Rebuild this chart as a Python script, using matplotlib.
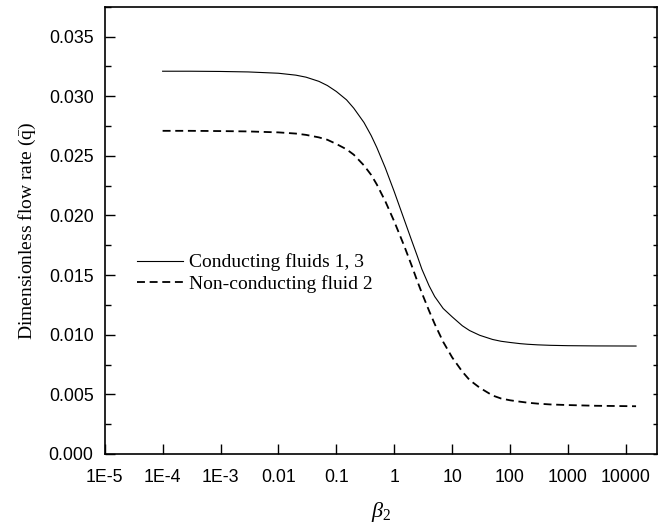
'''
Dimensionless flow rate versus beta_2
'''
import numpy as np
import matplotlib
matplotlib.use('Agg')
import matplotlib.pyplot as plt
from matplotlib.ticker import FixedLocator, FixedFormatter, LogLocator, MultipleLocator, NullFormatter

plt.rcParams['mathtext.fontset'] = 'custom'
plt.rcParams['mathtext.rm'] = 'Liberation Serif'
plt.rcParams['mathtext.it'] = 'Liberation Serif:italic'

# values
beta2 = [1e-4, 3e-4, 1e-3, 3e-3, 0.01, 0.02, 0.03, 0.05, 0.07, 0.1, 0.15, 0.2,
         0.3, 0.4, 0.5, 0.7, 1, 1.5, 2, 2.5, 3, 4, 5, 7, 10, 15, 20, 30, 50,
         70, 100, 150, 200, 300, 500, 1000, 3000, 15000]
q_conducting = [0.0321, 0.0321, 0.03208, 0.03204, 0.03193, 0.03177, 0.0316,
                0.03125, 0.0309, 0.0304, 0.0297, 0.0290, 0.0278, 0.0267, 0.0257,
                0.0240, 0.0220, 0.0196, 0.0179, 0.0166, 0.0155, 0.0141, 0.0132,
                0.0122, 0.0115, 0.01075, 0.01035, 0.00995, 0.0096, 0.00945,
                0.00935, 0.00925, 0.0092, 0.00915, 0.00911, 0.00908, 0.00906,
                0.00905]
q_nonconducting = [0.0271, 0.0271, 0.02708, 0.02705, 0.02697, 0.02687, 0.02676,
                   0.02655, 0.02635, 0.0260, 0.02555, 0.0251, 0.0242, 0.0234,
                   0.0226, 0.0212, 0.0195, 0.0174, 0.0158, 0.0145, 0.0135, 0.0120,
                   0.0109, 0.0094, 0.0081, 0.0069, 0.0062, 0.00555, 0.0049,
                   0.00465, 0.0045, 0.00438, 0.0043, 0.00422, 0.00415, 0.0041,
                   0.00404, 0.0040]
labels = ['Conducting fluids 1, 3', 'Non-conducting fluid 2']
xticks = [1e-5, 1e-4, 1e-3, 0.01, 0.1, 1, 10, 100, 1000, 10000]
xticklabels = ['1E-5', '1E-4', '1E-3', '0.01', '0.1', '1', '10', '100', '1000', '10000']

fig = plt.figure(figsize=(6.67, 5.26), dpi=100)
ax = fig.add_axes([0.157, 0.137, 0.828, 0.850])

ax.plot(beta2, q_conducting, color='black', lw=0.8, label=labels[0])
ax.plot(beta2, q_nonconducting, color='black', lw=1.3, dashes=(4.4, 2.6),
        label=labels[1])

ax.set_xscale('log')
ax.set_xlim(1e-5, 3.45e4)
ax.set_ylim(0, 0.0375)

ax.xaxis.set_major_locator(FixedLocator(xticks))
ax.xaxis.set_major_formatter(FixedFormatter(xticklabels))
ax.xaxis.set_minor_locator(LogLocator(base=10, subs=np.arange(2, 10)))
ax.xaxis.set_minor_formatter(NullFormatter())
ax.yaxis.set_major_locator(MultipleLocator(0.005))
ax.yaxis.set_minor_locator(MultipleLocator(0.0025))
ax.yaxis.set_major_formatter(plt.FuncFormatter(lambda v, p: '%.3f' % v))

ax.tick_params(which='both', direction='in', top=False, right=True,
               labelsize=12.8, width=1.0)
ax.tick_params(which='major', length=7)
ax.tick_params(axis='x', which='major', pad=11)
ax.tick_params(axis='y', which='major', pad=8)
ax.tick_params(which='minor', length=4)
# short ticks on the right spine
for t in ax.yaxis.get_major_ticks() + ax.yaxis.get_minor_ticks():
    t.tick2line.set_markersize(3)
for lab in ax.get_xticklabels() + ax.get_yticklabels():
    lab.set_family('Liberation Sans')
for s in ax.spines.values():
    s.set_linewidth(1.2)

ax.set_xlabel(r'$\beta_{2}$', fontsize=16, labelpad=10)
ax.set_ylabel(r'Dimensionless flow rate $(\bar{\mathrm{q}})$', fontsize=14,
              family='Liberation Serif', labelpad=8)

ax.legend(loc='upper left', bbox_to_anchor=(0.04, 0.47), frameon=False,
          prop={'family': 'Liberation Serif', 'size': 14}, handlelength=2.4,
          handletextpad=0.3, borderpad=0, labelspacing=0.2)

fig.savefig('out.png', dpi=100)
